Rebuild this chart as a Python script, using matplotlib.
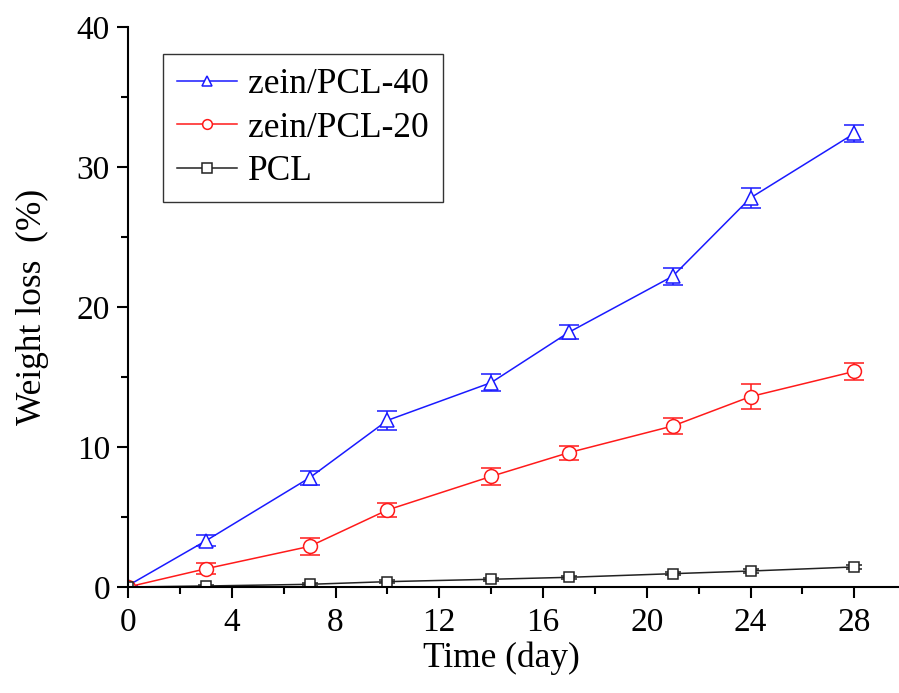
import numpy as np
import matplotlib.pyplot as plt
from matplotlib.ticker import MultipleLocator

plt.rcParams['font.family'] = ['Liberation Serif', 'DejaVu Serif']

# data
days = [0, 3, 7, 10, 14, 17, 21, 24, 28]
zein40 = [0.1, 3.3, 7.8, 11.9, 14.6, 18.2, 22.2, 27.8, 32.4]
zein40_err = [0, 0.4, 0.5, 0.7, 0.6, 0.5, 0.6, 0.7, 0.6]
zein20 = [0, 1.3, 2.9, 5.5, 7.9, 9.6, 11.5, 13.6, 15.4]
zein20_err = [0, 0.4, 0.6, 0.5, 0.6, 0.5, 0.6, 0.9, 0.6]
pcl = [0, 0.07, 0.19, 0.38, 0.55, 0.69, 0.95, 1.14, 1.43]
pcl_err = [0, 0.05, 0.1, 0.12, 0.12, 0.12, 0.12, 0.12, 0.12]

fig = plt.figure(figsize=(8.99, 6.93), dpi=100)
ax = fig.add_axes([0.1424, 0.153, 0.857, 0.808])

ax.errorbar(days, zein40, yerr=zein40_err, color='#1a1aff', marker='^', ms=10,
            mfc='white', mew=1.1, lw=1.1, capsize=7, elinewidth=1.1, capthick=1.1,
            label='zein/PCL-40')
ax.errorbar(days, zein20, yerr=zein20_err, color='#ff1a1a', marker='o', ms=10,
            mfc='white', mew=1.1, lw=1.1, capsize=7, elinewidth=1.1, capthick=1.1,
            label='zein/PCL-20')
ax.errorbar(days, pcl, yerr=pcl_err, color='#222222', marker='s', ms=7.5,
            mfc='white', mew=1.1, lw=1.1, capsize=6, elinewidth=1.1, capthick=1.1,
            label='PCL')

ax.set_xlim(0, 29.7)
ax.set_ylim(0, 40)
ax.xaxis.set_major_locator(MultipleLocator(4))
ax.xaxis.set_minor_locator(MultipleLocator(2))
ax.yaxis.set_major_locator(MultipleLocator(10))
ax.yaxis.set_minor_locator(MultipleLocator(5))

for s in ['top', 'right']:
    ax.spines[s].set_visible(False)
for s in ['left', 'bottom']:
    ax.spines[s].set_linewidth(1.5)

ax.tick_params(which='major', direction='out', length=8, width=1.5, labelsize=24)
ax.tick_params(axis='x', which='major', pad=7)
ax.tick_params(axis='y', which='major', pad=5)
ax.tick_params(which='minor', direction='out', length=5, width=1.5)

ax.set_xlabel('Time (day)', fontsize=25.5)
ax.xaxis.set_label_coords(0.484, -0.098)
ax.set_ylabel('Weight loss  (%)', fontsize=25.5, labelpad=20)

handles, labels = ax.get_legend_handles_labels()
handles = [h[0] for h in handles]
leg = ax.legend(handles, labels, loc='upper left', bbox_to_anchor=(0.045, 0.952),
                fontsize=25.5, frameon=True, fancybox=False, edgecolor='black',
                handlelength=1.7, handletextpad=0.3, borderpad=0.4, labelspacing=0.3,
                borderaxespad=0)
leg.get_frame().set_linewidth(1.0)
for h in leg.legend_handles:
    h.set_markersize(7)

fig.savefig('out.png', dpi=100)
